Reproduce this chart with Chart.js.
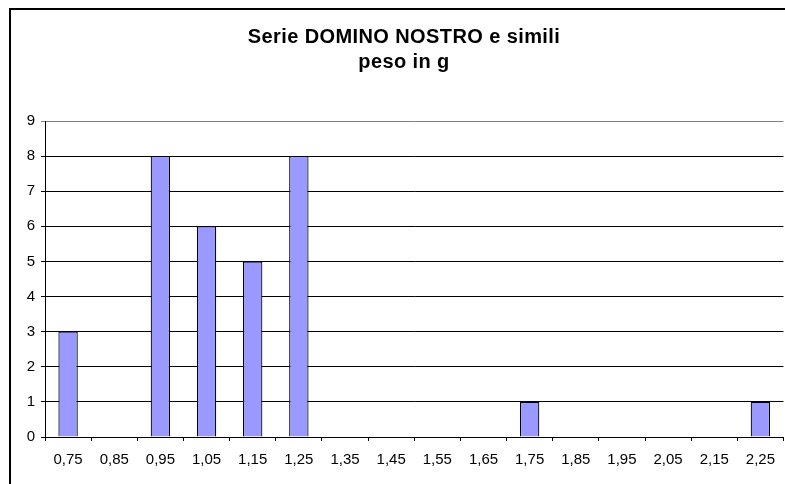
<!DOCTYPE html>
<html>
<head>
<meta charset="utf-8">
<script src="https://cdn.jsdelivr.net/npm/chart.js@4/dist/chart.umd.min.js"></script>
<style>
  html, body { margin: 0; padding: 0; background: #fff; }
  #wrap { position: relative; width: 785px; height: 484px; overflow: hidden; }
  #chart { position: absolute; left: 0; top: 0; }
  #frame {
    position: absolute; left: 9px; top: 8px; width: 790px; height: 500px;
    border: 2px solid #000; pointer-events: none;
  }
</style>
</head>
<body>
<div id="wrap">
  <canvas id="chart" width="785" height="484"></canvas>
  <div id="frame"></div>
</div>
<script>
// data
const categories = ["0,75", "0,85", "0,95", "1,05", "1,15", "1,25", "1,35", "1,45",
                    "1,55", "1,65", "1,75", "1,85", "1,95", "2,05", "2,15", "2,25"]
const counts     = [3, 0, 8, 6, 5, 8, 0, 0, 0, 0, 1, 0, 0, 0, 0, 1]
const titleLines = ["Serie DOMINO NOSTRO e simili", "peso in g"]
const yMin = 0, yMax = 9, yStep = 1

const FONT = "Arial, 'Liberation Sans', sans-serif"

// title centred on the outer frame, not on the canvas
const frameTitle = {
  id: "frameTitle",
  afterDraw(chart) {
    const ctx = chart.ctx
    ctx.save()
    ctx.font = "bold 20px " + FONT
    ctx.fillStyle = "#000"
    ctx.textAlign = "center"
    ctx.textBaseline = "alphabetic"
    if ("letterSpacing" in ctx) ctx.letterSpacing = "0.4px"
    ctx.fillText(titleLines[0], 404, 43)
    ctx.fillText(titleLines[1], 404, 68)
    ctx.restore()
  }
}

new Chart(document.getElementById("chart"), {
  type: "bar",
  data: {
    labels: categories,
    datasets: [{
      data: counts,
      backgroundColor: "#9999ff",
      borderColor: "#000",
      borderWidth: 1.2,
      categoryPercentage: 1,
      barPercentage: 0.42,
    }]
  },
  options: {
    responsive: false,
    animation: false,
    layout: { padding: { left: 0, right: 0, top: 121, bottom: 0 } },
    plugins: {
      legend:  { display: false },
      tooltip: { enabled: false },
      title:   { display: false },
    },
    scales: {
      x: {
        offset: true,
        grid: { offset: true, drawOnChartArea: false, drawTicks: true, tickLength: 4, color: "#000" },
        border: { display: true, color: "#000", width: 1 },
        ticks: { color: "#000", font: { family: FONT, size: 15 }, padding: 10, maxRotation: 0, autoSkip: false },
        afterFit: s => { s.height = 47 },
      },
      y: {
        min: yMin,
        max: yMax,
        grid: {
          color: c => c.tick && c.tick.value === yMax ? "#808080" : "#000",
          drawTicks: true, tickLength: 4,
        },
        border: { display: true, color: "#000", width: 1 },
        ticks: { stepSize: yStep, color: "#000", font: { family: FONT, size: 15 }, padding: 6 },
        afterFit: s => { s.width = 45 },
      },
    },
  },
  plugins: [frameTitle],
})
</script>
</body>
</html>
